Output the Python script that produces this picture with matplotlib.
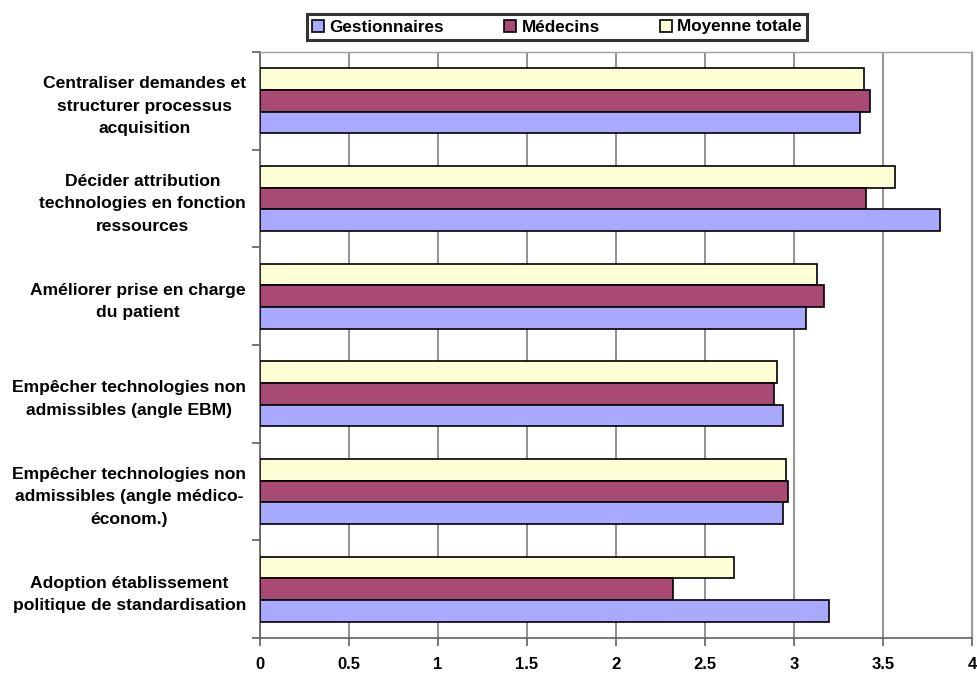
import matplotlib.pyplot as plt
import numpy as np
from matplotlib.patches import Patch

plt.rcParams['font.family'] = ['Liberation Sans', 'DejaVu Sans']
plt.rcParams['font.weight'] = 'bold'

categories = [
    "Centraliser demandes et\nstructurer processus\nacquisition",
    "Décider attribution\ntechnologies en fonction\nressources",
    "Améliorer prise en charge\ndu patient",
    "Empêcher technologies non\nadmissibles (angle EBM)",
    "Empêcher technologies non\nadmissibles (angle médico-\néconom.)",
    "Adoption établissement\npolitique de standardisation",
]
gestionnaires = [3.37, 3.82, 3.07, 2.94, 2.94, 3.195]
medecins = [3.425, 3.405, 3.17, 2.885, 2.965, 2.32]
moyenne = [3.395, 3.57, 3.13, 2.905, 2.955, 2.665]

series_names = ["Gestionnaires", "Médecins", "Moyenne totale"]
colors = ["#A9A9FF", "#A94A74", "#FFFFD6"]

fig = plt.figure(figsize=(9.77, 6.73), dpi=100)
ax = fig.add_axes([260 / 977, 35 / 673, 712 / 977, 586 / 673])

y = np.arange(len(categories))
h = 0.222
ax.barh(y - h, moyenne, height=h, color=colors[2], edgecolor="black", linewidth=1.2, zorder=3)
ax.barh(y, medecins, height=h, color=colors[1], edgecolor="black", linewidth=1.2, zorder=3)
ax.barh(y + h, gestionnaires, height=h, color=colors[0], edgecolor="black", linewidth=1.2, zorder=3)

ax.set_xlim(0, 4)
ax.set_ylim(len(categories) - 0.5, -0.5)
ax.set_xticks(np.arange(0, 4.01, 0.5))
ax.set_xticklabels(["0", "0.5", "1", "1.5", "2", "2.5", "3", "3.5", "4"], fontsize=12, fontweight="bold")
ax.xaxis.grid(True, color="#7f7f7f", linewidth=1.2, zorder=0)

ax.set_yticks(y)
ax.set_yticklabels(categories, fontsize=12.6, fontweight="bold", linespacing=1.62)
for t in ax.get_yticklabels():
    t.set_multialignment("center")
ax.set_yticks(np.arange(-0.5, len(categories), 1.0), minor=True)
ax.tick_params(axis="y", which="major", length=0, pad=10)
ax.tick_params(axis="y", which="minor", length=6, color="#606060", width=1.2)
ax.tick_params(axis="x", length=6, color="#606060", width=1.2, pad=8)

for side in ["top", "right"]:
    ax.spines[side].set_color("#a0a0a0")
    ax.spines[side].set_linewidth(1)
for side in ["left", "bottom"]:
    ax.spines[side].set_color("#606060")
    ax.spines[side].set_linewidth(1.2)

handles = [Patch(facecolor=c, edgecolor="black", linewidth=1.2) for c in colors]
leg = fig.legend(handles, series_names, loc="center", bbox_to_anchor=(557 / 977, 1 - 27 / 673),
                 ncol=3, prop={"weight": "bold", "size": 12.3}, frameon=True, fancybox=False,
                 handlelength=0.7, handleheight=0.7, handletextpad=0.3, columnspacing=3.55,
                 borderpad=0.3, borderaxespad=0)
leg.get_frame().set_edgecolor("black")
leg.get_frame().set_linewidth(2.2)

fig.savefig("out.png", dpi=100)
